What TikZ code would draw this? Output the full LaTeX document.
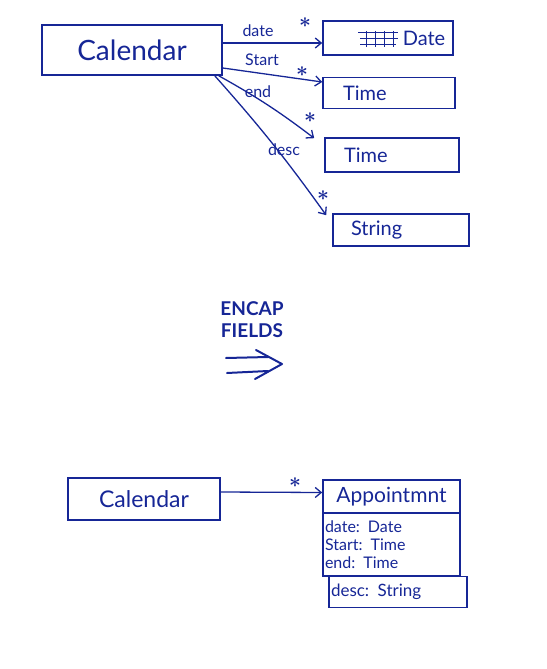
\documentclass[tikz,border=0pt]{standalone}
\usepackage{fontspec}
\setmainfont{Lato}
\usetikzlibrary{arrows.meta,calc}
\definecolor{ink}{RGB}{22,38,150}
\begin{document}
\begin{tikzpicture}[x=1pt,y=1pt,
  ink/.style={draw=ink,line width=1.6pt},
  box/.style={ink,rectangle,inner sep=0pt,text=ink,font=\fontsize{20}{22}\selectfont},
  lbox/.style={box,align=left,inner ysep=0pt},
  conn/.style={ink,line width=1.3pt,-{Straight Barb[length=6pt,width=10pt]}},
  lbl/.style={text=ink,font=\fontsize{16}{17}\selectfont,inner sep=0pt},
  star/.style={text=ink,font=\fontsize{22}{22}\selectfont\boldmath,inner sep=0pt}]
\useasboundingbox (0,0) rectangle (546,-669);
% top part
\node[box,minimum width=180,minimum height=50,font=\fontsize{28}{30}\selectfont] (cal) at (132,-50) {Calendar};
\node[box,minimum width=130,minimum height=34] (date) at (388,-38) {};
\node[text=ink,font=\fontsize{20}{22}\selectfont,inner sep=0pt] (datetxt) at (424,-38) {Date};
\draw[ink,line width=1pt] (358,-33) -- (398,-33) (360,-39) -- (398,-39) (360,-45) -- (396,-45)
  (366,-31) -- (366,-47) (375,-31) -- (375,-47) (384,-31) -- (384,-47) (393,-31) -- (393,-47);
\node[lbox,text width=92,inner xsep=20,minimum height=31] (time1) at (389,-93) {Time};
\node[lbox,text width=96,inner xsep=19,minimum height=34] (time2) at (392,-155) {Time};
\node[lbox,text width=100,inner xsep=18,minimum height=32] (str) at (401,-230) {String};

\draw[conn] ([yshift=7]cal.east) -- ([yshift=-5]date.west);
\draw[conn] ([yshift=-18]cal.east) -- ([yshift=11]time1.west);
\draw[conn] ([xshift=-4]cal.south east) to[bend left=4] ([xshift=-10,yshift=-1]time2.north west);
\draw[conn] ([xshift=-8]cal.south east) to[bend left=3] ([xshift=-6,yshift=-2]str.north west);

\node[lbl] (l1) at (258,-31) {date};
\node[star] (s1) at (305,-23) {$\ast$};
\node[lbl] (l2) at (262,-60) {Start};
\node[star] (s2) at (302,-72) {$\ast$};
\node[lbl] (l3) at (258,-92) {end};
\node[star] (s3) at (310,-118) {$\ast$};
\node[lbl] (l4) at (284,-150) {desc};
\node[star] (s4) at (323,-196) {$\ast$};

% middle
\node[text=ink,font=\fontsize{19}{20}\selectfont\bfseries,align=center,inner sep=0pt] (enc) at (252,-320) {ENCAP\\[2pt]FIELDS};
\draw[ink,line width=2pt,line cap=round,line join=round] (226,-358) -- (268,-357) (227,-373) -- (268,-371)
  (256,-350) -- (282,-364) -- (255,-379);

% bottom
\node[box,minimum width=152,minimum height=42,font=\fontsize{23}{25}\selectfont] (cal2) at (144,-499) {Calendar};
\node[box,minimum width=137,minimum height=33,font=\fontsize{21}{23}\selectfont] (ahead) at (391.5,-496.5) {Appointmnt};
\node[box,minimum width=137,minimum height=63,font=\fontsize{16}{18}\selectfont,align=left,text width=133,inner xsep=2pt,inner ysep=2pt] (aattr) at (391.5,-544.5) {date: Date\\Start: Time\\end: Time};
\node[box,minimum width=138,minimum height=31,font=\fontsize{17}{19}\selectfont,align=left,text width=134,inner xsep=2pt] (adesc) at (398,-592) {desc: String};
\draw[conn] ([yshift=7]cal2.east) -- ([yshift=4]ahead.west);
\node[star] (s5) at (295,-483) {$\ast$};
\end{tikzpicture}
\end{document}
